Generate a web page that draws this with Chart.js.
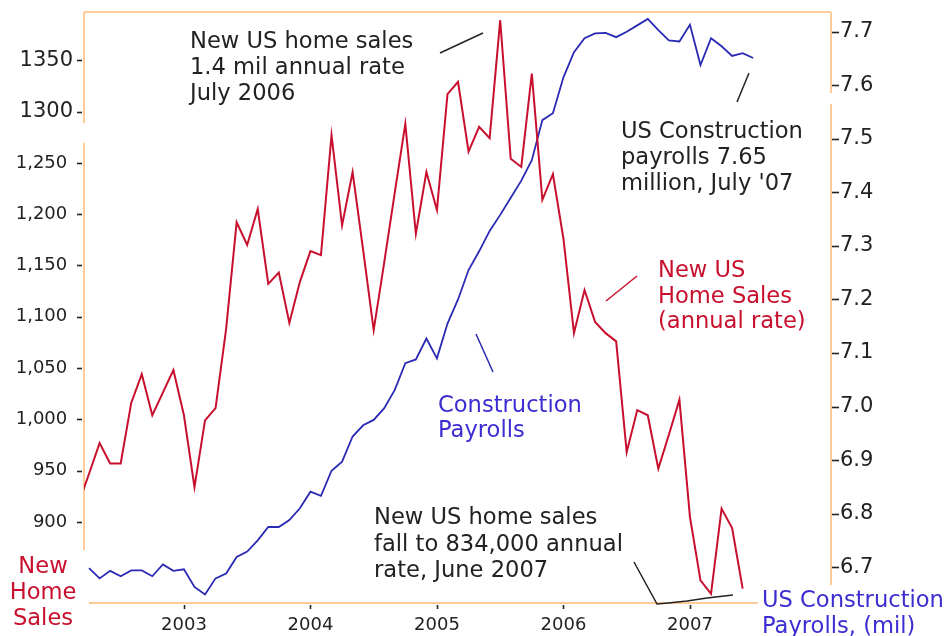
<!DOCTYPE html>
<html>
<head>
<meta charset="utf-8">
<script src="https://cdn.jsdelivr.net/npm/chart.js@4"></script>
<style>
  body { margin: 0; background: #fff; }
  canvas { display: block; }
</style>
</head>
<body>
<canvas id="myChart" width="946" height="636"></canvas>
<script>
// new home sales (thousands, annual rate), monthly from Mar 2002
const salesStart = "2002-03";
const homeSales = [
  918, 947, 977, 957, 957, 1016, 1044, 1004, 1026, 1048,
  1004, 934, 999, 1011, 1088, 1192, 1170, 1205, 1132, 1143, 1094, 1134,
  1164, 1160, 1277, 1189, 1241, 1165, 1087, 1153, 1221, 1288, 1181, 1241,
  1204, 1317, 1329, 1261, 1285, 1274, 1389, 1254, 1246, 1337, 1214, 1239,
  1176, 1084, 1126, 1095, 1084, 1076, 968, 1009, 1004, 952, 985, 1019,
  905, 843, 830, 913, 894, 835,
];

// construction payrolls (millions), monthly from Apr 2002
const payrollStart = "2002-04";
const payrolls = [
  6.698, 6.679, 6.693, 6.683, 6.694, 6.694, 6.683, 6.705, 6.693,
  6.696, 6.663, 6.649, 6.679, 6.688, 6.719, 6.729, 6.75, 6.775, 6.775, 6.788, 6.81,
  6.841, 6.833, 6.88, 6.897, 6.944, 6.965, 6.975, 6.997, 7.031, 7.081, 7.088, 7.127,
  7.09, 7.155, 7.2, 7.255, 7.29, 7.328, 7.358, 7.39, 7.422, 7.46, 7.535, 7.548,
  7.615, 7.662, 7.688, 7.697, 7.698, 7.69, 7.7, 7.712, 7.724, 7.703, 7.684, 7.682,
  7.713, 7.638, 7.688, 7.673, 7.655, 7.66, 7.651,
];

// tick labels
const yearTicks = [2003, 2004, 2005, 2006, 2007];
const salesTicks = [900, 950, 1000, 1050, 1100, 1150, 1200, 1250, 1300, 1350];
const payrollTicks = [6.7, 6.8, 6.9, 7.0, 7.1, 7.2, 7.3, 7.4, 7.5, 7.6, 7.7];

const RED = "#c8102e";
const BLUE = "#2a2ab4";
const DARK = "#222";
const FONT = '"DejaVu Sans", Verdana, sans-serif';

// 月份轉小數年份
function toYear(start, i) {
  const [y, m] = start.split("-").map(Number);
  return y + (m - 1 + i) / 12;
}

// 註解文字
const notes = [
  { lines: ["New US home sales", "1.4 mil annual rate", "July 2006"], x: 190, y: 48, gap: 26, color: DARK },
  { lines: ["US Construction", "payrolls 7.65", "million, July '07"], x: 621, y: 138, gap: 26, color: DARK },
  { lines: ["New US", "Home Sales", "(annual rate)"], x: 658, y: 277, gap: 25.5, color: RED },
  { lines: ["Construction", "Payrolls"], x: 438, y: 412, gap: 25, color: "#3c2dd2" },
  { lines: ["New US home sales", "fall to 834,000 annual", "rate, June 2007"], x: 374, y: 524, gap: 26.5, color: DARK },
  { lines: ["New", "Home", "Sales"], x: 43, y: 573, gap: 26, color: RED, align: "center" },
  { lines: ["US Construction", "Payrolls, (mil)"], x: 762, y: 607, gap: 25.5, color: "#3c2dd2" },
];

const pointers = [
  { pts: [[440, 53], [483, 33]], color: DARK },
  { pts: [[737, 102], [749, 73]], color: DARK },
  { pts: [[606, 301], [637, 276]], color: RED },
  { pts: [[476, 334], [493, 372]], color: BLUE },
  { pts: [[634, 562], [657, 604], [668, 603], [687, 601], [707, 598], [733, 595]], color: DARK },
];

// 外框 (有斷開的地方)
const frame = [
  [[84, 12], [831, 12]],
  [[84, 12], [84, 123]],
  [[84, 143], [84, 550]],
  [[89, 603], [758, 603]],
  [[831, 12], [831, 93]],
  [[831, 104], [831, 585]],
];

function line(ctx, x1, y1, x2, y2) {
  ctx.beginPath();
  ctx.moveTo(x1, y1);
  ctx.lineTo(x2, y2);
  ctx.stroke();
}

const decorPlugin = {
  id: "decor",
  beforeDatasetsDraw(chart) {
    const ctx = chart.ctx;
    const { x, ySales, yPay } = chart.scales;
    ctx.save();
    ctx.strokeStyle = "#ffcc99";
    ctx.lineWidth = 2;
    frame.forEach((seg) => line(ctx, seg[0][0], seg[0][1], seg[1][0], seg[1][1]));
    // 刻度短線
    ctx.strokeStyle = DARK;
    ctx.lineWidth = 1.6;
    salesTicks.forEach((v) => {
      const py = Math.round(ySales.getPixelForValue(v)) + 0.5;
      line(ctx, ySales.right - 7, py, ySales.right - 2, py);
    });
    payrollTicks.forEach((v) => {
      const py = Math.round(yPay.getPixelForValue(v)) + 0.5;
      line(ctx, yPay.left + 1, py, yPay.left + 8, py);
    });
    yearTicks.forEach((v) => {
      const px = Math.round(x.getPixelForValue(v)) + 0.5;
      line(ctx, px, x.top + 2, px, x.top + 6);
    });
    ctx.restore();
  },
  afterDraw(chart) {
    const ctx = chart.ctx;
    ctx.save();
    ctx.lineWidth = 1.5;
    pointers.forEach((p) => {
      ctx.strokeStyle = p.color;
      ctx.beginPath();
      p.pts.forEach((pt, i) => (i ? ctx.lineTo(pt[0], pt[1]) : ctx.moveTo(pt[0], pt[1])));
      ctx.stroke();
    });
    ctx.font = "22.6px " + FONT;
    ctx.textBaseline = "alphabetic";
    notes.forEach((n) => {
      ctx.fillStyle = n.color;
      ctx.textAlign = n.align || "left";
      n.lines.forEach((line, i) => ctx.fillText(line, n.x, n.y + i * n.gap));
    });
    ctx.restore();
  },
};

// 固定軸的大小, 不讓標籤撐開繪圖區
function fixSize(w, h) {
  return (s) => {
    if (w) s.width = w;
    if (h) s.height = h;
    s.paddingTop = 0;
    s.paddingBottom = 0;
    s.paddingLeft = 0;
    s.paddingRight = 0;
  };
}

const noGrid = { display: false, drawTicks: false };

const config = {
  type: "line",
  data: {
    datasets: [
      {
        label: "New Home Sales",
        data: homeSales.map((v, i) => ({ x: toYear(salesStart, i), y: v })),
        borderColor: RED,
        borderWidth: 2,
        pointRadius: 0,
        tension: 0,
        yAxisID: "ySales",
      },
      {
        label: "US Construction Payrolls",
        data: payrolls.map((v, i) => ({ x: toYear(payrollStart, i), y: v })),
        borderColor: BLUE,
        borderWidth: 1.8,
        pointRadius: 0,
        tension: 0,
        yAxisID: "yPay",
      },
    ],
  },
  options: {
    responsive: false,
    animation: false,
    devicePixelRatio: 1,
    layout: { padding: { top: 12, left: 0, right: 0, bottom: 0 } },
    plugins: {
      legend: { display: false },
      tooltip: { enabled: false },
    },
    scales: {
      x: {
        type: "linear",
        min: 2002.21,
        max: 2008.115,
        grid: noGrid,
        border: { display: false },
        afterBuildTicks: (s) => (s.ticks = yearTicks.map((v) => ({ value: v }))),
        afterFit: fixSize(0, 33),
        ticks: {
          padding: 12,
          color: DARK,
          font: { family: FONT, size: 18 },
          callback: (v) => String(v),
          maxRotation: 0,
        },
      },
      ySales: {
        type: "linear",
        position: "left",
        min: 821,
        max: 1397,
        grid: noGrid,
        border: { display: false },
        afterBuildTicks: (s) => (s.ticks = salesTicks.map((v) => ({ value: v }))),
        afterFit: fixSize(84, 0),
        ticks: {
          padding: 11,
          color: DARK,
          font: (c) => ({ family: FONT, size: c.tick && c.tick.value >= 1300 ? 21 : 18 }),
          callback: (v) => (v >= 1300 ? String(v) : v.toLocaleString("en-US") + " "),
        },
      },
      yPay: {
        type: "linear",
        position: "right",
        min: 6.633,
        max: 7.737,
        grid: noGrid,
        border: { display: false },
        afterBuildTicks: (s) => (s.ticks = payrollTicks.map((v) => ({ value: v }))),
        afterFit: fixSize(115, 0),
        ticks: {
          padding: 9,
          color: DARK,
          font: { family: FONT, size: 21 },
          callback: (v) => v.toFixed(1),
        },
      },
    },
  },
  plugins: [decorPlugin],
};

const myChart = new Chart(document.getElementById("myChart"), config);
</script>
</body>
</html>
